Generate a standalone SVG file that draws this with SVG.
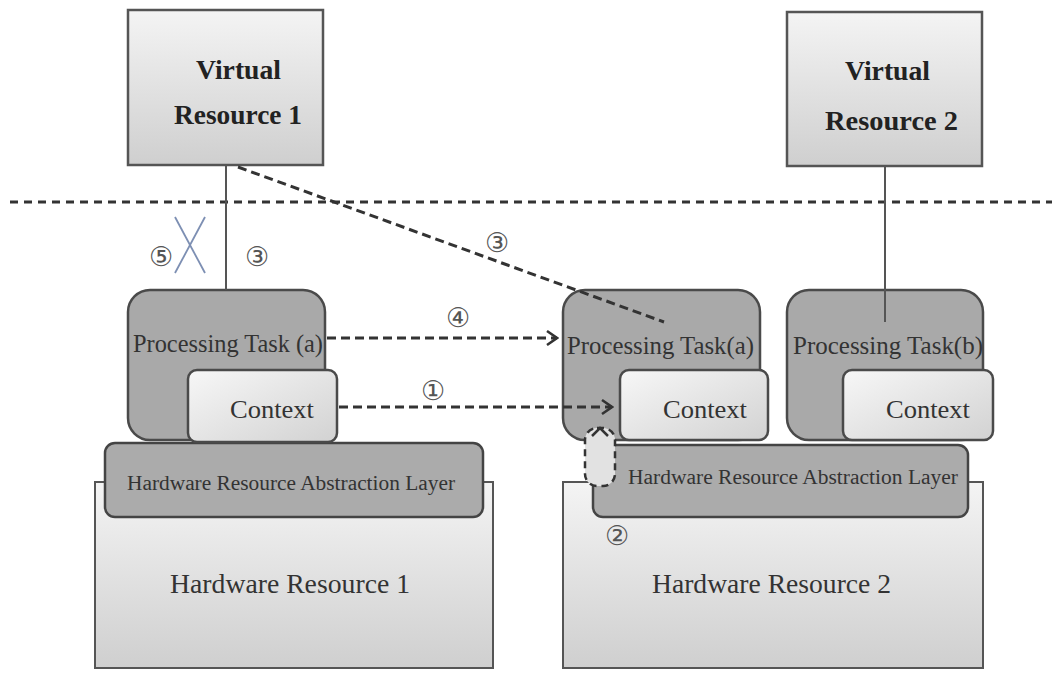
<svg xmlns="http://www.w3.org/2000/svg" width="1052" height="675" viewBox="0 0 1052 675">
<defs>
<linearGradient id="gLight" x1="0" y1="0" x2="0" y2="1">
<stop offset="0" stop-color="#f4f4f4"/><stop offset="1" stop-color="#cfcfcf"/>
</linearGradient>
<linearGradient id="gCtx" x1="0" y1="0" x2="1" y2="1">
<stop offset="0" stop-color="#f7f7f7"/><stop offset="1" stop-color="#d2d2d2"/>
</linearGradient>
<marker id="open" markerWidth="14" markerHeight="16" refX="12" refY="8" orient="auto" markerUnits="userSpaceOnUse">
<path d="M2,1 L12,8 L2,15" fill="none" stroke="#333" stroke-width="2.5"/>
</marker>
</defs>
<style>
.task{fill:#a9a9a9;stroke:#4a4a4a;stroke-width:2.5}
.ctx{fill:url(#gCtx);stroke:#4a4a4a;stroke-width:2.5}
.hral{fill:#ababab;stroke:#444;stroke-width:2.5}
.hw{fill:url(#gLight);stroke:#555;stroke-width:2}
.vr{fill:url(#gLight);stroke:#555;stroke-width:2.5}
.t{font-family:"Liberation Serif",serif;fill:#333}
.tb{font-family:"Liberation Serif",serif;font-weight:bold;fill:#222}
.num{font-family:"DejaVu Sans",sans-serif;fill:#555;font-size:27px}
.dash{fill:none;stroke:#333;stroke-width:3;stroke-dasharray:9 5}
</style>
<rect width="1052" height="675" fill="#fff"/>

<g id="hw1"><rect class="hw" x="95" y="482" width="398" height="186"/>
<text class="t" x="170" y="593" font-size="27" textLength="240" lengthAdjust="spacingAndGlyphs">Hardware Resource 1</text></g>
<g id="hw2"><rect class="hw" x="563" y="482" width="420" height="186"/>
<text class="t" x="652" y="593" font-size="27" textLength="239" lengthAdjust="spacingAndGlyphs">Hardware Resource 2</text></g>

<g id="hral1"><rect class="hral" x="105" y="443" width="378" height="74" rx="10"/>
<text class="t" x="127" y="490" font-size="20" textLength="328" lengthAdjust="spacingAndGlyphs">Hardware Resource Abstraction Layer</text></g>
<g id="hral2"><rect class="hral" x="593" y="445" width="375" height="72" rx="10"/>
<text class="t" x="628" y="484" font-size="20" textLength="330" lengthAdjust="spacingAndGlyphs">Hardware Resource Abstraction Layer</text></g>

<g id="vr1"><rect class="vr" x="128" y="10" width="195" height="155"/>
<text class="tb" x="196" y="79" font-size="27" textLength="85" lengthAdjust="spacingAndGlyphs">Virtual</text>
<text class="tb" x="174" y="124" font-size="27" textLength="128" lengthAdjust="spacingAndGlyphs">Resource 1</text></g>
<g id="vr2"><rect class="vr" x="787" y="12" width="195" height="154"/>
<text class="tb" x="845" y="80" font-size="27" textLength="85" lengthAdjust="spacingAndGlyphs">Virtual</text>
<text class="tb" x="825" y="130" font-size="27" textLength="133" lengthAdjust="spacingAndGlyphs">Resource 2</text></g>

<g id="taskA1"><rect class="task" x="128" y="290" width="197" height="150" rx="22"/>
<text class="t" x="133" y="352" font-size="25" textLength="190" lengthAdjust="spacingAndGlyphs">Processing Task (a)</text></g>
<g id="ctx1"><rect class="ctx" x="188" y="370" width="149" height="72" rx="9"/>
<text class="t" x="230" y="418" font-size="26" textLength="84" lengthAdjust="spacingAndGlyphs">Context</text></g>

<g id="taskA2"><rect class="task" x="563" y="290" width="197" height="150" rx="22"/>
<text class="t" x="567" y="354" font-size="25" textLength="187" lengthAdjust="spacingAndGlyphs">Processing Task(a)</text></g>
<g id="ctx2"><rect class="ctx" x="620" y="370" width="148" height="70" rx="9"/>
<text class="t" x="663" y="418" font-size="26" textLength="84" lengthAdjust="spacingAndGlyphs">Context</text></g>

<g id="taskB"><rect class="task" x="787" y="290" width="196" height="150" rx="22"/>
<text class="t" x="793" y="354" font-size="25" textLength="190" lengthAdjust="spacingAndGlyphs">Processing Task(b)</text></g>
<g id="ctxB"><rect class="ctx" x="843" y="370" width="150" height="70" rx="9"/>
<text class="t" x="886" y="418" font-size="26" textLength="84" lengthAdjust="spacingAndGlyphs">Context</text></g>

<g id="connectors">
<line x1="10" y1="202" x2="1052" y2="202" stroke="#333" stroke-width="3.2" stroke-dasharray="8 6"/>
<line x1="226" y1="166" x2="226" y2="290" stroke="#555" stroke-width="2"/>
<line x1="885" y1="166" x2="885" y2="322" stroke="#555" stroke-width="2"/>
<line x1="238" y1="167" x2="664" y2="322" class="dash" stroke-width="2.5"/>
<line x1="175" y1="217" x2="205" y2="273" stroke="#7d8fb3" stroke-width="1.8"/>
<line x1="205" y1="217" x2="175" y2="273" stroke="#7d8fb3" stroke-width="1.8"/>
<line x1="327" y1="338" x2="557" y2="338" class="dash" marker-end="url(#open)"/>
<line x1="339" y1="407" x2="612" y2="407" class="dash" marker-end="url(#open)"/>
<rect x="585" y="428" width="30" height="58" rx="12" fill="#e2e2e2" stroke="#333" stroke-width="2.5" stroke-dasharray="7 5"/>
<path d="M592,436 L600,428 L608,436" fill="none" stroke="#333" stroke-width="2.5"/>
<text class="num" x="161" y="266" text-anchor="middle">⑤</text>
<text class="num" x="257" y="266" text-anchor="middle">③</text>
<text class="num" x="497" y="252" text-anchor="middle">③</text>
<text class="num" x="458" y="327" text-anchor="middle">④</text>
<text class="num" x="433" y="400" text-anchor="middle">①</text>
<text class="num" x="617" y="545" text-anchor="middle">②</text>
</g>
</svg>
